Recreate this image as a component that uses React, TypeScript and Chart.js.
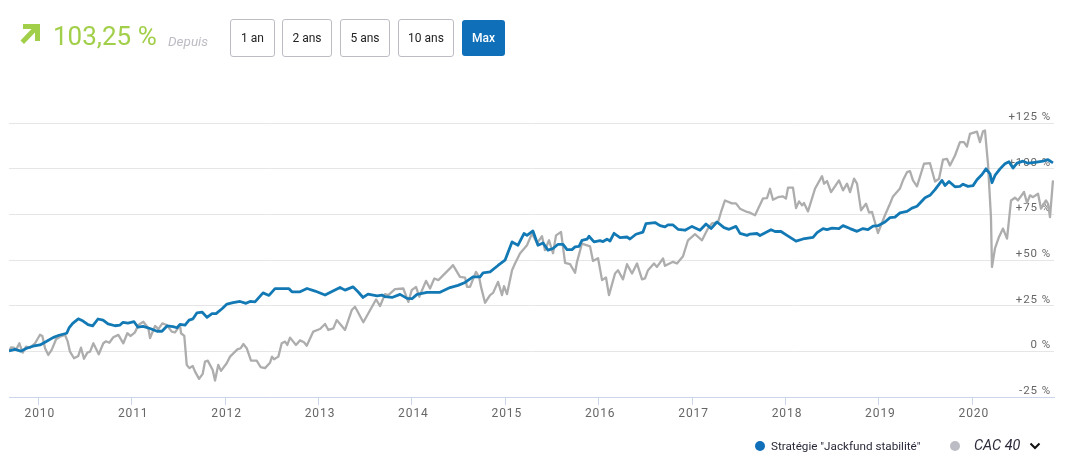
import React, { useEffect, useRef } from 'react'
import { Chart, registerables } from 'chart.js'

Chart.register(...registerables)

const FONT = 'Roboto, sans-serif'

const strategyDates = [
	2009.686, 2009.751, 2009.812, 2009.876, 2009.943, 2010.018, 2010.09, 2010.157, 2010.222, 2010.304, 2010.329, 2010.368,
	2010.428, 2010.479, 2010.532, 2010.582, 2010.639, 2010.693, 2010.746, 2010.821, 2010.875, 2010.907, 2010.96, 2011.025,
	2011.067, 2011.121, 2011.196, 2011.271, 2011.324, 2011.378, 2011.442, 2011.485, 2011.517, 2011.571, 2011.614, 2011.656,
	2011.699, 2011.753, 2011.806, 2011.86, 2011.903, 2011.967, 2012.02, 2012.085, 2012.16, 2012.224, 2012.267, 2012.32,
	2012.406, 2012.47, 2012.534, 2012.684, 2012.716, 2012.802, 2012.877, 2012.963, 2013.07, 2013.155, 2013.23, 2013.284,
	2013.369, 2013.423, 2013.477, 2013.53, 2013.627, 2013.68, 2013.712, 2013.787, 2013.873, 2013.948, 2014.001, 2014.055,
	2014.162, 2014.301, 2014.408, 2014.494, 2014.569, 2014.654, 2014.729, 2014.762, 2014.837, 2014.922, 2014.997, 2015.072,
	2015.136, 2015.2, 2015.232, 2015.296, 2015.35, 2015.404, 2015.457, 2015.511, 2015.565, 2015.618, 2015.661, 2015.714,
	2015.747, 2015.789, 2015.821, 2015.875, 2015.896, 2015.95, 2016.014, 2016.046, 2016.089, 2016.121, 2016.164, 2016.228,
	2016.303, 2016.335, 2016.399, 2016.474, 2016.506, 2016.603, 2016.657, 2016.71, 2016.742, 2016.796, 2016.849, 2016.924,
	2016.999, 2017.085, 2017.149, 2017.203, 2017.267, 2017.342, 2017.396, 2017.47, 2017.513, 2017.588, 2017.62, 2017.695,
	2017.727, 2017.845, 2017.888, 2017.952, 2018.016, 2018.113, 2018.188, 2018.295, 2018.338, 2018.402, 2018.445, 2018.498,
	2018.573, 2018.616, 2018.691, 2018.766, 2018.83, 2018.883, 2018.937, 2018.99, 2019.065, 2019.119, 2019.172, 2019.226,
	2019.301, 2019.354, 2019.408, 2019.494, 2019.547, 2019.601, 2019.676, 2019.708, 2019.751, 2019.815, 2019.868, 2019.901,
	2019.954, 2020.008, 2020.05, 2020.104, 2020.147, 2020.19, 2020.211, 2020.243, 2020.297, 2020.35, 2020.393, 2020.436,
	2020.479, 2020.543, 2020.597, 2020.672, 2020.757, 2020.811, 2020.864,
]

const strategyValues = [
	0.2, 1.1, 0.1, 1.7, 2.8, 3.5, 5.5, 7.5, 8.8, 9.9, 12.8, 15.3,
	17.8, 16.6, 14.6, 13.9, 17.7, 17.1, 15, 14, 14.4, 15.9, 15.5, 16.2,
	13.2, 13.7, 12.5, 11, 11, 13.9, 13.5, 12.9, 14.8, 14.4, 17.1, 17.8,
	21.1, 21.5, 18.6, 20.6, 20.6, 23.3, 25.9, 26.6, 27.3, 26.3, 27.3, 27.1,
	32, 30.6, 34.3, 34.3, 32.6, 32.6, 34.4, 33, 30.8, 33, 35, 33.5,
	35.3, 32.6, 29.5, 31.3, 30.4, 30.8, 29.9, 29.5, 31.2, 29, 28.8, 31.2,
	32.3, 32.3, 34.9, 36.1, 37.7, 40.8, 40.8, 43, 43.5, 47, 49.9, 59.9,
	58.1, 64.5, 63.5, 65.9, 58.1, 59.3, 55.4, 56.3, 58.6, 58.6, 55.7, 55.7,
	57.2, 57.5, 60.8, 61.4, 63, 59.9, 60.6, 60.1, 61.4, 60.4, 64.6, 62.3,
	62.6, 61.5, 64.1, 65.3, 69.9, 70.5, 68.8, 68.1, 69.2, 69.2, 66.8, 66.3,
	68.4, 66.3, 69.7, 67.2, 70.8, 67.7, 66.8, 68.4, 64.6, 63.5, 64.2, 64.5,
	63.4, 66.6, 65.6, 65.6, 63.5, 60.3, 61.5, 62.4, 65, 67.2, 66.6, 67.4,
	67.2, 68.8, 67.2, 65.7, 67.2, 66.6, 68.6, 68.8, 70.8, 73.2, 73.5, 75.8,
	76.6, 78.4, 79.4, 84.1, 85.4, 88.5, 93.6, 90.8, 93, 90.1, 90.3, 91.5,
	90.3, 90.7, 93.9, 96.8, 99.9, 97.2, 92.3, 96.3, 99.9, 102.7, 103.8, 100.3,
	103, 104.1, 103, 103.5, 104.1, 104.9, 103.2,
]

const cacDates = [
	2009.686, 2009.708, 2009.74, 2009.761, 2009.797, 2009.833, 2009.868, 2009.911, 2009.965, 2010.018, 2010.043, 2010.072,
	2010.107, 2010.143, 2010.19, 2010.232, 2010.286, 2010.315, 2010.339, 2010.382, 2010.428, 2010.457, 2010.489, 2010.525,
	2010.554, 2010.589, 2010.647, 2010.696, 2010.725, 2010.76, 2010.803, 2010.857, 2010.91, 2010.953, 2010.989, 2011.035,
	2011.071, 2011.124, 2011.178, 2011.196, 2011.25, 2011.285, 2011.328, 2011.375, 2011.428, 2011.464, 2011.517, 2011.528,
	2011.563, 2011.589, 2011.617, 2011.653, 2011.678, 2011.721, 2011.76, 2011.785, 2011.814, 2011.867, 2011.892, 2011.927,
	2011.956, 2012.017, 2012.053, 2012.131, 2012.167, 2012.195, 2012.231, 2012.277, 2012.338, 2012.381, 2012.427, 2012.481,
	2012.502, 2012.524, 2012.57, 2012.606, 2012.642, 2012.666, 2012.695, 2012.759, 2012.802, 2012.845, 2012.874, 2012.944,
	2013.016, 2013.07, 2013.105, 2013.159, 2013.195, 2013.249, 2013.284, 2013.356, 2013.391, 2013.48, 2013.616, 2013.659,
	2013.712, 2013.747, 2013.819, 2013.908, 2013.962, 2013.998, 2014.044, 2014.079, 2014.151, 2014.194, 2014.24, 2014.283,
	2014.408, 2014.44, 2014.515, 2014.569, 2014.59, 2014.622, 2014.686, 2014.719, 2014.74, 2014.783, 2014.837, 2014.869,
	2014.922, 2014.965, 2014.986, 2015.018, 2015.072, 2015.104, 2015.157, 2015.232, 2015.286, 2015.34, 2015.393, 2015.425,
	2015.468, 2015.511, 2015.543, 2015.597, 2015.64, 2015.693, 2015.747, 2015.768, 2015.821, 2015.907, 2015.939, 2015.993,
	2016.036, 2016.078, 2016.11, 2016.175, 2016.207, 2016.26, 2016.303, 2016.357, 2016.41, 2016.464, 2016.496, 2016.528,
	2016.592, 2016.624, 2016.689, 2016.71, 2016.796, 2016.838, 2016.903, 2016.956, 2017.031, 2017.106, 2017.17, 2017.213,
	2017.278, 2017.31, 2017.352, 2017.427, 2017.47, 2017.513, 2017.588, 2017.62, 2017.674, 2017.759, 2017.802, 2017.834,
	2017.866, 2017.92, 2017.973, 2018.005, 2018.027, 2018.08, 2018.113, 2018.145, 2018.177, 2018.198, 2018.241, 2018.316,
	2018.391, 2018.413, 2018.445, 2018.488, 2018.573, 2018.616, 2018.659, 2018.691, 2018.734, 2018.766, 2018.809, 2018.862,
	2018.895, 2018.927, 2018.99, 2019.065, 2019.119, 2019.151, 2019.226, 2019.258, 2019.301, 2019.333, 2019.365, 2019.408,
	2019.483, 2019.547, 2019.601, 2019.644, 2019.686, 2019.729, 2019.761, 2019.815, 2019.868, 2019.911, 2019.943, 2019.975,
	2020.05, 2020.082, 2020.115, 2020.136, 2020.168, 2020.2, 2020.211, 2020.243, 2020.286, 2020.329, 2020.372, 2020.415,
	2020.457, 2020.489, 2020.554, 2020.586, 2020.618, 2020.65, 2020.704, 2020.736, 2020.789, 2020.811, 2020.832, 2020.864,
]

const cacValues = [
	-0.2, 2.2, 2, 0.8, 4.4, -0.7, 2.6, 2, 4.4, 9.1, 8.4, 1.7,
	-2, 0.8, 6.6, 8, 9, 5.3, -0.2, -3.8, -2.5, 2, -4.1, -0.7,
	-0.2, 4.4, -1.6, 4.4, 5.5, 4.7, 7.7, 9, 4.4, 9.9, 8.4, 10.4,
	14.4, 16.2, 12.6, 7.3, 13.9, 12.2, 15.3, 14.4, 10.8, 10.4, 14.4, 9.9,
	8.4, -7.4, -9.2, -8, -11.1, -15.1, -12.3, -5.6, -5.1, -10.2, -16, -7.4,
	-10.7, -6.5, -2.9, 1.1, 1.7, 4, 1.7, -5.1, -5.1, -8.7, -9.2, -6.2,
	-2.9, -4.3, -2.9, 4.4, 5.3, 3.5, 7.5, 3.5, 6, 5, 3.1, 10.8,
	12.2, 15, 11.7, 12.6, 17.1, 13.9, 11.7, 22.6, 24.4, 15.9, 28.4, 24.8,
	31.3, 30.8, 34.1, 34.4, 27.1, 33.5, 35.3, 29.9, 38.6, 34.4, 39.9, 39,
	45.4, 47.2, 40.8, 40.4, 35.3, 35.3, 43.5, 40.8, 35.3, 26.6, 30.8, 32,
	38, 30.8, 35.7, 31.3, 44.4, 48.1, 53.5, 58.1, 64.5, 59.2, 63, 55.4,
	60.8, 53.7, 63.5, 65.3, 48.4, 47.7, 43, 49, 59, 57.5, 49.5, 51,
	39, 40.4, 30.8, 42.6, 44.4, 39.4, 47.7, 42.6, 48.1, 39.4, 39.9, 44.4,
	48.1, 46.2, 50.8, 46.8, 49, 48.1, 52.1, 60.8, 64.1, 60.8, 67.2, 70.1,
	70.8, 76.3, 82.6, 81, 81, 78.1, 76.3, 75.9, 74.5, 83.7, 83.9, 89,
	83, 84.4, 84.8, 83.6, 89.6, 89.6, 78.4, 82.1, 79.9, 81.2, 76.6, 89,
	95.9, 91.8, 93.2, 87.2, 93.6, 88.1, 91.8, 87.2, 94.5, 91.8, 77.2, 80.8,
	75.9, 76.3, 64.8, 74.5, 80.8, 84.8, 89.2, 93.6, 98.1, 98.6, 93.6, 90.3,
	102.7, 103, 93, 94.5, 104.9, 105.4, 101.7, 107.2, 114.5, 114.5, 112.1, 119,
	120.3, 114.5, 120.5, 120.9, 102.7, 73.5, 46.2, 56.3, 62.6, 67.2, 61.7, 82.6,
	84.1, 82.6, 87.2, 81.2, 85.4, 84.4, 86.3, 78.1, 82.6, 80.8, 73.5, 93.6,
]

const yearTicks = [2010, 2011, 2012, 2013, 2014, 2015, 2016, 2017, 2018, 2019, 2020]
const percentTicks = [-25, 0, 25, 50, 75, 100, 125]
const periods = ['1 an', '2 ans', '5 ans', '10 ans', 'Max']

const buttonBoxes = [
	{ left: 230, width: 45 },
	{ left: 282, width: 50 },
	{ left: 340, width: 50 },
	{ left: 398, width: 56 },
	{ left: 462, width: 43 },
]

const percentLabel = (v: number) => (v > 0 ? `+${v} %` : `${v} %`)

const spacedText = {
	id: 'spacedText',
	beforeDraw(chart: any) {
		chart.ctx.letterSpacing = '0.9px'
	},
}

const App: React.FC = () => {
	const chartRef = useRef<HTMLCanvasElement>(null)

	useEffect(() => {
		if (!chartRef.current) return
		const chart = new Chart(chartRef.current, {
			type: 'line',
			data: {
				datasets: [
					{
						label: 'Stratégie "Jackfund stabilité"',
						data: strategyDates.map((d, i) => ({ x: d, y: strategyValues[i] })),
						borderColor: '#1379b5',
						borderWidth: 2.8,
						borderJoinStyle: 'round',
						pointRadius: 0,
						order: 1,
					},
					{
						label: 'CAC 40',
						data: cacDates.map((d, i) => ({ x: d, y: cacValues[i] })),
						borderColor: '#adadad',
						borderWidth: 2.3,
						borderJoinStyle: 'round',
						pointRadius: 0,
						order: 2,
					},
				],
			},
			options: {
				animation: false,
				responsive: false,
				devicePixelRatio: 1,
				layout: { padding: { left: 9, right: 13, top: 123, bottom: 0 } },
				plugins: { legend: { display: false }, tooltip: { enabled: false } },
				scales: {
					x: {
						type: 'linear',
						min: 2009.686,
						max: 2020.875,
						afterFit: (scale: any) => {
							scale.height = 71
						},
						afterBuildTicks: (scale: any) => {
							scale.ticks = yearTicks.map((value) => ({ value }))
						},
						grid: { color: 'transparent', tickColor: '#ccd6eb', tickLength: 8 },
						border: { color: '#ccd6eb' },
						ticks: {
							autoSkip: false,
							maxRotation: 0,
							padding: 2,
							labelOffset: 1.5,
							color: '#666666',
							font: { family: FONT, size: 12 },
							callback: (v: any) => String(v),
						},
					},
					y: {
						type: 'linear',
						position: 'right',
						min: -25,
						max: 125,
						afterBuildTicks: (scale: any) => {
							scale.ticks = percentTicks.map((value) => ({ value }))
						},
						grid: { color: '#e6e6e6', drawTicks: false },
						border: { display: false },
						ticks: {
							mirror: true,
							padding: -3,
							labelOffset: -6,
							color: '#666666',
							font: { family: FONT, size: 11.5 },
							callback: (v: any) => percentLabel(v),
						},
					},
				},
			},
			plugins: [spacedText],
		} as any)
		return () => {
			chart.destroy()
		}
	}, [])

	return (
		<div style={{ position: 'absolute', left: 0, top: 0, width: 1067, height: 468, overflow: 'hidden', fontFamily: FONT, background: '#fff' }}>
			<canvas ref={chartRef} width={1067} height={468} style={{ position: 'absolute', left: 0, top: 0 }} />

			<svg width="22" height="22" style={{ position: 'absolute', left: 20, top: 24 }} viewBox="0 0 22 22">
				<path d="M3 0 H20 V17 H15 V8.5 L4 20 L0.5 16.5 L11.5 5 H3 Z" fill="#a2cf4a" />
			</svg>
			<div style={{ position: 'absolute', left: 53, top: 20, fontSize: 26, lineHeight: '32px', color: '#a2cf4a' }}>103,25 %</div>
			<div style={{ position: 'absolute', left: 168, top: 33, fontSize: 13.5, lineHeight: '16px', fontStyle: 'italic', color: '#bcbcc4' }}>Depuis</div>

			{periods.map((p, i) => {
				const active = p === 'Max'
				return (
					<div
						key={p}
						style={{
							position: 'absolute',
							left: buttonBoxes[i].left,
							top: active ? 20 : 19,
							width: buttonBoxes[i].width,
							height: active ? 36 : 38,
							boxSizing: 'border-box',
							border: active ? 'none' : '1px solid #bcbcc4',
							borderRadius: 3,
							background: active ? '#0f6fb8' : '#fff',
							color: active ? '#fff' : '#222',
							fontSize: 12,
							fontWeight: active ? 500 : 400,
							display: 'flex',
							alignItems: 'center',
							justifyContent: 'center',
						}}
					>
						{p}
					</div>
				)
			})}

			<div style={{ position: 'absolute', left: 755, top: 441, width: 10, height: 10, borderRadius: 5, background: '#0f6fb8' }} />
			<div style={{ position: 'absolute', left: 771, top: 439, fontSize: 11.7, lineHeight: '14px', color: '#2a2a3a', whiteSpace: 'nowrap' }}>Stratégie "Jackfund stabilité"</div>
			<div style={{ position: 'absolute', left: 950, top: 441, width: 10, height: 10, borderRadius: 5, background: '#bcbcc4' }} />
			<div style={{ position: 'absolute', left: 974, top: 438, fontSize: 14.4, lineHeight: '16px', fontStyle: 'italic', color: '#2a2a3a', whiteSpace: 'nowrap' }}>CAC 40</div>
			<svg width="12" height="8" style={{ position: 'absolute', left: 1029, top: 442 }} viewBox="0 0 12 8">
				<path d="M1.5 1.5 L6 6 L10.5 1.5" fill="none" stroke="#111" strokeWidth="2" />
			</svg>
		</div>
	)
}

export default App
